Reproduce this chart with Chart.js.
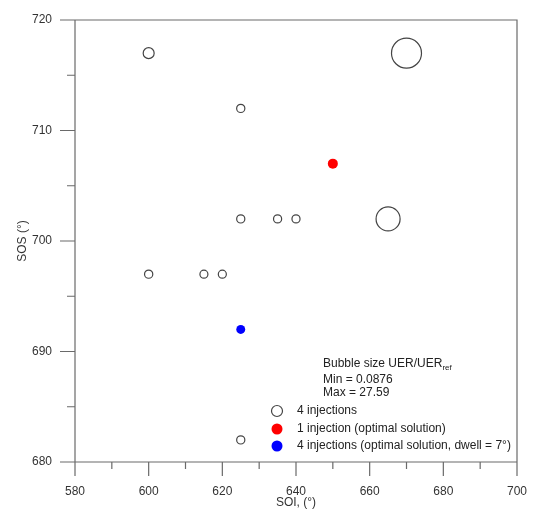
<!DOCTYPE html>
<html>
<head>
<meta charset="utf-8">
<title>SOI vs SOS</title>
<script src="https://cdn.jsdelivr.net/npm/chart.js@4.4.1/dist/chart.umd.min.js"></script>
<style>
  html, body { margin: 0; padding: 0; background: #fff; }
  #wrap { width: 533px; height: 510px; position: relative; }
</style>
</head>
<body>
<div id="wrap"><canvas id="graph"></canvas></div>
<script>
// 4 injections (open bubbles)
const openSOI = [600, 670, 625, 625, 635, 640, 665, 600, 615, 620, 625];
const openSOS = [717, 717, 712, 702, 702, 702, 702, 697, 697, 697, 682];
const openUER = [3.8, 27.59, 0.35, 0.3, 0.25, 0.2, 20.1, 0.4, 0.0876, 0.15, 0.3];

// 1 injection (optimal solution)
const redSOI = [650];
const redSOS = [707];
const redUER = [2.6];

// 4 injections (optimal solution, dwell = 7°)
const blueSOI = [625];
const blueSOS = [692];
const blueUER = [1.3];

const xTicks = [580, 600, 620, 640, 660, 680, 700];
const yTicks = [680, 690, 700, 710, 720];

const allUER = openUER.concat(redUER, blueUER);
const uerMin = Math.min.apply(null, allUER);
const uerMax = Math.max.apply(null, allUER);

function bubbleRadius(v) { // bubble size from UER/UER_ref
    return 4 + 11 * (v - uerMin) / (uerMax - uerMin);
}

function toPoints(xs, ys, vs) {
    return xs.map((x, i) => ({ x: x, y: ys[i], r: bubbleRadius(vs[i]) }));
}

const FONT = "'Liberation Sans', Arial, sans-serif";

// frame and tick marks, drawn with the chart's own scales
const framePlugin = {
    id: 'frame',
    afterDraw(chart) {
        const ctx = chart.ctx;
        const a = chart.chartArea;
        const xs = chart.scales.x, ys = chart.scales.y;
        ctx.save();
        ctx.strokeStyle = '#6a6a6a';
        ctx.lineWidth = 1.2;
        ctx.beginPath();
        ctx.rect(a.left, a.top, a.right - a.left, a.bottom - a.top);
        for (let v = 580; v <= 700; v += 10) {
            const px = xs.getPixelForValue(v);
            ctx.moveTo(px, a.bottom);
            ctx.lineTo(px, a.bottom + (v % 20 == 0 ? 14 : 7));
        }
        for (let v = 680; v <= 720; v += 5) {
            const py = ys.getPixelForValue(v);
            ctx.moveTo(a.left, py);
            ctx.lineTo(a.left - (v % 10 == 0 ? 15 : 8), py);
        }
        ctx.stroke();
        ctx.restore();
    }
};

// legend box in the lower right of the plot
const legendPlugin = {
    id: 'bubbleLegend',
    afterDraw(chart) {
        const ctx = chart.ctx;
        const a = chart.chartArea;
        const tx = a.left + 248;
        ctx.save();
        ctx.fillStyle = '#222';
        ctx.textBaseline = 'middle';
        ctx.font = '12px ' + FONT;
        const head = 'Bubble size UER/UER';
        ctx.fillText(head, tx, a.top + 344);
        const w = ctx.measureText(head).width;
        ctx.font = '8px ' + FONT;
        ctx.fillText('ref', tx + w, a.top + 348);
        ctx.font = '12px ' + FONT;
        ctx.fillText('Min = ' + uerMin, tx, a.top + 360);
        ctx.fillText('Max = ' + uerMax, tx, a.top + 373);

        const rows = [
            { text: '4 injections', fill: null },
            { text: '1 injection (optimal solution)', fill: '#ff0000' },
            { text: '4 injections (optimal solution, dwell = 7°)', fill: '#0000ff' }
        ];
        const mx = a.left + 202, lx = a.left + 222;
        const rowY = [391, 409, 426];
        rows.forEach((row, i) => {
            const y = a.top + rowY[i];
            ctx.beginPath();
            ctx.arc(mx, y, 5.5, 0, Math.PI * 2);
            if (row.fill) {
                ctx.fillStyle = row.fill;
                ctx.fill();
            } else {
                ctx.strokeStyle = '#444';
                ctx.lineWidth = 1.2;
                ctx.stroke();
            }
            ctx.fillStyle = '#222';
            ctx.fillText(row.text, lx, y);
        });
        ctx.restore();
    }
};

window.addEventListener('load', () => {

    Chart.defaults.font.family = FONT;
    Chart.defaults.font.size = 12;
    Chart.defaults.color = '#333';

    chart = new Chart('graph', {
        type: 'bubble',
        data: {
            datasets: [{
                    label: '4 injections',
                    data: toPoints(openSOI, openSOS, openUER),
                    backgroundColor: 'rgba(0,0,0,0)',
                    borderColor: '#444',
                    borderWidth: 1.2
                }, {
                    label: '1 injection (optimal solution)',
                    data: toPoints(redSOI, redSOS, redUER),
                    backgroundColor: '#ff0000',
                    borderColor: '#ff0000',
                    borderWidth: 0
                }, {
                    label: '4 injections (optimal solution, dwell = 7°)',
                    data: toPoints(blueSOI, blueSOS, blueUER),
                    backgroundColor: '#0000ff',
                    borderColor: '#0000ff',
                    borderWidth: 0
                }
            ]
        },
        options: {
            responsive: true,
            maintainAspectRatio: false,
            animation: false,
            events: [],
            layout: { autoPadding: false, padding: { top: 20, right: 16, left: 0, bottom: 0 } },
            plugins: {
                legend: { display: false },
                tooltip: { enabled: false }
            },
            scales: {
                x: {
                    type: 'linear',
                    min: 580,
                    max: 700,
                    afterBuildTicks: s => { s.ticks = xTicks.map(v => ({ value: v })); },
                    afterFit: s => { s.height = 48; s.paddingLeft = 0; s.paddingRight = 0; },
                    grid: { display: false, drawTicks: false },
                    border: { display: false },
                    ticks: { padding: 22, color: '#333' },
                    title: { display: true, text: 'SOI, (°)', color: '#333', padding: { top: 0, bottom: 0 } }
                },
                y: {
                    type: 'linear',
                    min: 680,
                    max: 720,
                    afterBuildTicks: s => { s.ticks = yTicks.map(v => ({ value: v })); },
                    afterFit: s => { s.width = 75; s.paddingTop = 0; s.paddingBottom = 0; },
                    grid: { display: false, drawTicks: false },
                    border: { display: false },
                    ticks: { padding: 23, color: '#333' },
                    title: { display: true, text: 'SOS (°)', color: '#333', padding: { top: 15, bottom: 0 } }
                }
            }
        },
        plugins: [framePlugin, legendPlugin]
    });
})
</script>
</body>
</html>
